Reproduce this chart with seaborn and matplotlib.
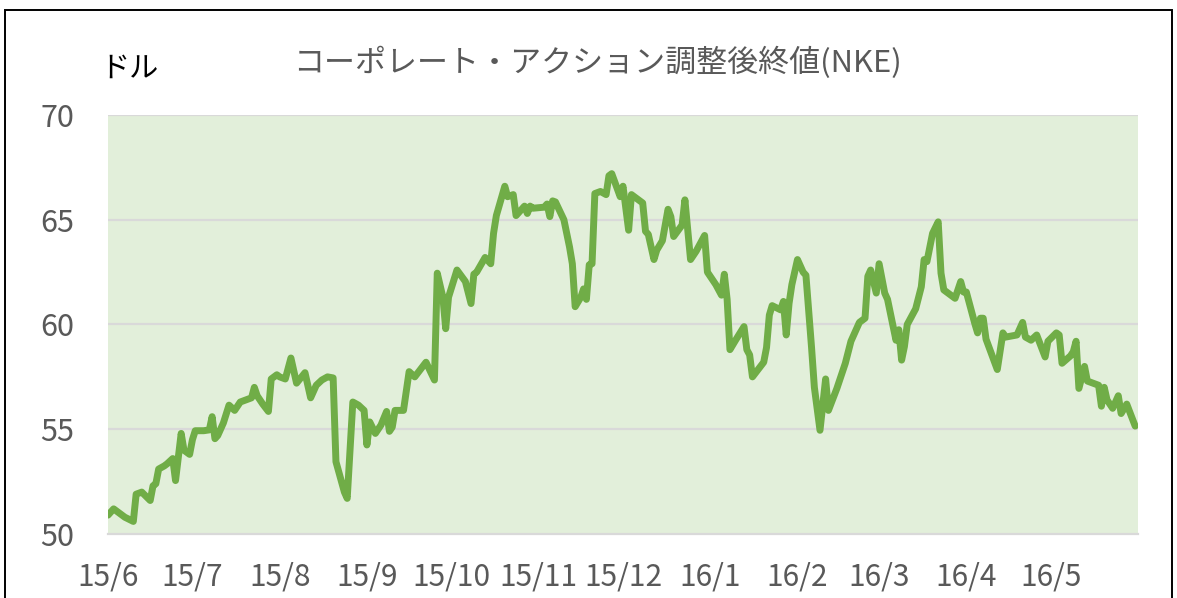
import matplotlib
matplotlib.use("Agg")
import matplotlib.pyplot as plt
from matplotlib.patches import Rectangle
import pandas as pd
import seaborn as sns

# NKE adjusted closing prices (USD), June 2015 - May 2016
dates = [
    "2015-06-01", "2015-06-03", "2015-06-05", "2015-06-07", "2015-06-10", "2015-06-11",
    "2015-06-13", "2015-06-16", "2015-06-17", "2015-06-18", "2015-06-19", "2015-06-21",
    "2015-06-22", "2015-06-24", "2015-06-25", "2015-06-27", "2015-06-28", "2015-06-30",
    "2015-07-01", "2015-07-02", "2015-07-05", "2015-07-07", "2015-07-08", "2015-07-09",
    "2015-07-10", "2015-07-12", "2015-07-14", "2015-07-16", "2015-07-18", "2015-07-20",
    "2015-07-22", "2015-07-23", "2015-07-24", "2015-07-26", "2015-07-28", "2015-07-29",
    "2015-07-31", "2015-08-01", "2015-08-03", "2015-08-05", "2015-08-07", "2015-08-10",
    "2015-08-12", "2015-08-14", "2015-08-16", "2015-08-18", "2015-08-20", "2015-08-21",
    "2015-08-24", "2015-08-25", "2015-08-27", "2015-08-29", "2015-08-31", "2015-09-01",
    "2015-09-02", "2015-09-04", "2015-09-06", "2015-09-08", "2015-09-09", "2015-09-10",
    "2015-09-11", "2015-09-14", "2015-09-16", "2015-09-18", "2015-09-22", "2015-09-25",
    "2015-09-26", "2015-09-28", "2015-09-29", "2015-09-30", "2015-10-03", "2015-10-06",
    "2015-10-08", "2015-10-09", "2015-10-10", "2015-10-13", "2015-10-15", "2015-10-16",
    "2015-10-17", "2015-10-20", "2015-10-21", "2015-10-23", "2015-10-24", "2015-10-27",
    "2015-10-28", "2015-10-29", "2015-10-30", "2015-11-03", "2015-11-04", "2015-11-05",
    "2015-11-06", "2015-11-07", "2015-11-10", "2015-11-12", "2015-11-13", "2015-11-14",
    "2015-11-16", "2015-11-17", "2015-11-18", "2015-11-19", "2015-11-20", "2015-11-21",
    "2015-11-23", "2015-11-25", "2015-11-26", "2015-11-27", "2015-11-30", "2015-12-01",
    "2015-12-03", "2015-12-04", "2015-12-06", "2015-12-08", "2015-12-09", "2015-12-10",
    "2015-12-12", "2015-12-13", "2015-12-15", "2015-12-17", "2015-12-18", "2015-12-19",
    "2015-12-22", "2015-12-23", "2015-12-25", "2015-12-27", "2015-12-30", "2015-12-31",
    "2016-01-03", "2016-01-05", "2016-01-06", "2016-01-07", "2016-01-08", "2016-01-10",
    "2016-01-13", "2016-01-14", "2016-01-15", "2016-01-16", "2016-01-20", "2016-01-21",
    "2016-01-22", "2016-01-23", "2016-01-26", "2016-01-27", "2016-01-28", "2016-01-29",
    "2016-01-30", "2016-02-01", "2016-02-03", "2016-02-04", "2016-02-06", "2016-02-07",
    "2016-02-09", "2016-02-11", "2016-02-12", "2016-02-15", "2016-02-18", "2016-02-20",
    "2016-02-23", "2016-02-25", "2016-02-26", "2016-02-27", "2016-02-29", "2016-03-01",
    "2016-03-03", "2016-03-04", "2016-03-07", "2016-03-08", "2016-03-09", "2016-03-10",
    "2016-03-11", "2016-03-14", "2016-03-16", "2016-03-17", "2016-03-18", "2016-03-20",
    "2016-03-22", "2016-03-23", "2016-03-24", "2016-03-28", "2016-03-30", "2016-03-31",
    "2016-04-01", "2016-04-04", "2016-04-05", "2016-04-06", "2016-04-07", "2016-04-08",
    "2016-04-12", "2016-04-14", "2016-04-15", "2016-04-19", "2016-04-21", "2016-04-22",
    "2016-04-24", "2016-04-26", "2016-04-29", "2016-04-30", "2016-05-03", "2016-05-04",
    "2016-05-05", "2016-05-08", "2016-05-09", "2016-05-10", "2016-05-11", "2016-05-13",
    "2016-05-14", "2016-05-16", "2016-05-18", "2016-05-19", "2016-05-20", "2016-05-21",
    "2016-05-23", "2016-05-25", "2016-05-26", "2016-05-28", "2016-05-31",
]
prices = [
    50.9, 51.2, 51.0, 50.8, 50.6, 51.9,
    52.0, 51.6, 52.3, 52.4, 53.1, 53.25,
    53.35, 53.6, 52.55, 54.8, 54.0, 53.8,
    54.5, 54.93, 54.93, 54.97, 55.6, 54.55,
    54.7, 55.3, 56.15, 55.9, 56.3, 56.4,
    56.5, 57.0, 56.6, 56.2, 55.85, 57.4,
    57.6, 57.5, 57.4, 58.4, 57.2, 57.7,
    56.5, 57.1, 57.35, 57.5, 57.45, 53.45,
    52.0, 51.7, 56.3, 56.15, 55.9, 54.25,
    55.35, 54.8, 55.2, 55.85, 54.9, 55.1,
    55.9, 55.9, 57.75, 57.5, 58.2, 57.35,
    62.45, 61.3, 59.8, 61.3, 62.6, 62.05,
    61.0, 62.4, 62.5, 63.2, 62.9, 64.35,
    65.2, 66.6, 66.1, 66.2, 65.2, 65.65,
    65.3, 65.65, 65.55, 65.6, 65.75, 65.15,
    65.9, 65.85, 65.0, 63.7, 62.9, 60.85,
    61.3, 61.7, 61.2, 62.85, 62.9, 66.25,
    66.35, 66.2, 67.1, 67.2, 66.1, 66.6,
    64.5, 66.2, 66.0, 65.8, 64.45, 64.3,
    63.1, 63.55, 64.0, 65.5, 65.15, 64.2,
    64.75, 65.95, 63.1, 63.5, 64.25, 62.5,
    61.9, 61.4, 62.4, 61.2, 58.8, 59.25,
    59.9, 58.8, 58.55, 57.5, 58.2, 58.9,
    60.45, 60.9, 60.7, 61.1, 59.5, 61.0,
    61.9, 63.1, 62.5, 62.35, 58.9, 57.0,
    54.95, 57.4, 55.9, 56.95, 58.15, 59.2,
    60.1, 60.3, 62.3, 62.6, 61.5, 62.9,
    61.5, 61.2, 59.25, 59.75, 58.3, 58.95,
    60.0, 60.75, 61.8, 63.1, 63.0, 64.35,
    64.9, 62.45, 61.65, 61.25, 62.05, 61.55,
    61.55, 60.05, 59.6, 60.3, 60.3, 59.3,
    57.85, 59.6, 59.4, 59.5, 60.1, 59.4,
    59.25, 59.5, 58.45, 59.2, 59.6, 59.5,
    58.15, 58.5, 58.7, 59.2, 56.95, 58.0,
    57.3, 57.2, 57.1, 56.1, 57.0, 56.4,
    56.0, 56.6, 55.75, 56.2, 55.15,
]

month_ticks = [
    "2015-06-01", "2015-07-01", "2015-08-01", "2015-09-01", "2015-10-01", "2015-11-01",
    "2015-12-01", "2016-01-01", "2016-02-01", "2016-03-01", "2016-04-01", "2016-05-01",
    "2016-06-01",
]
month_labels = [
    "15/6", "15/7", "15/8", "15/9", "15/10", "15/11",
    "15/12", "16/1", "16/2", "16/3", "16/4", "16/5", "",
]
y_ticks = [50, 55, 60, 65, 70]

title_text = "コーポレート・アクション調整後終値(NKE)"
unit_text = "ドル"

sns.set_theme(style="white")
plt.rcParams["font.family"] = ["Noto Sans CJK JP", "DejaVu Sans"]

df = pd.DataFrame({"date": pd.to_datetime(dates), "price": prices})

W, H = 1177, 598
fig = plt.figure(figsize=(W / 100, H / 100), dpi=100)
fig.patch.set_facecolor("white")
ax = fig.add_axes([108 / W, 1 - 534 / H, (1138 - 108) / W, (534 - 115) / H])
ax.set_facecolor("#E2EFDA")

grid_color = "#D9D9D9"
for v in y_ticks[1:]:
    ax.axhline(v, color=grid_color, lw=1.6, zorder=1)

sns.lineplot(data=df, x="date", y="price", ax=ax, color="#70AD47", lw=5.0,
             zorder=3, solid_joinstyle="round", solid_capstyle="round")

ax.set_xlim(pd.Timestamp(month_ticks[0]), pd.Timestamp(month_ticks[-1]))
ax.set_ylim(y_ticks[0], y_ticks[-1])

ax.set_xticks(pd.to_datetime(month_ticks))
ax.set_xticklabels(month_labels, fontsize=21.5, color="#595959")
ax.set_yticks(y_ticks)
ax.set_yticklabels([str(v) for v in y_ticks], fontsize=22, color="#595959")
ax.tick_params(axis="x", length=8, width=1.6, color=grid_color, pad=12, direction="out")
ax.tick_params(axis="y", length=0, pad=24)
ax.set_xlabel("")
ax.set_ylabel("")

for side in ("top", "right", "left"):
    ax.spines[side].set_visible(False)
ax.spines["bottom"].set_color(grid_color)
ax.spines["bottom"].set_linewidth(1.6)
ax.spines["bottom"].set_zorder(2)

fig.text(597 / W, 1 - 63 / H, title_text, ha="center", va="center",
         fontsize=22.3, color="#595959")
fig.text(100 / W, 1 - 69 / H, unit_text, ha="left", va="center",
         fontsize=21, color="black")

# outer frame of the chart area
fig.add_artist(Rectangle((5 / W, -0.05), (1172 - 5) / W, 1.05 - 10 / H,
                         transform=fig.transFigure, fill=False,
                         edgecolor="black", lw=1.4))

fig.savefig("out.png", dpi=100)
